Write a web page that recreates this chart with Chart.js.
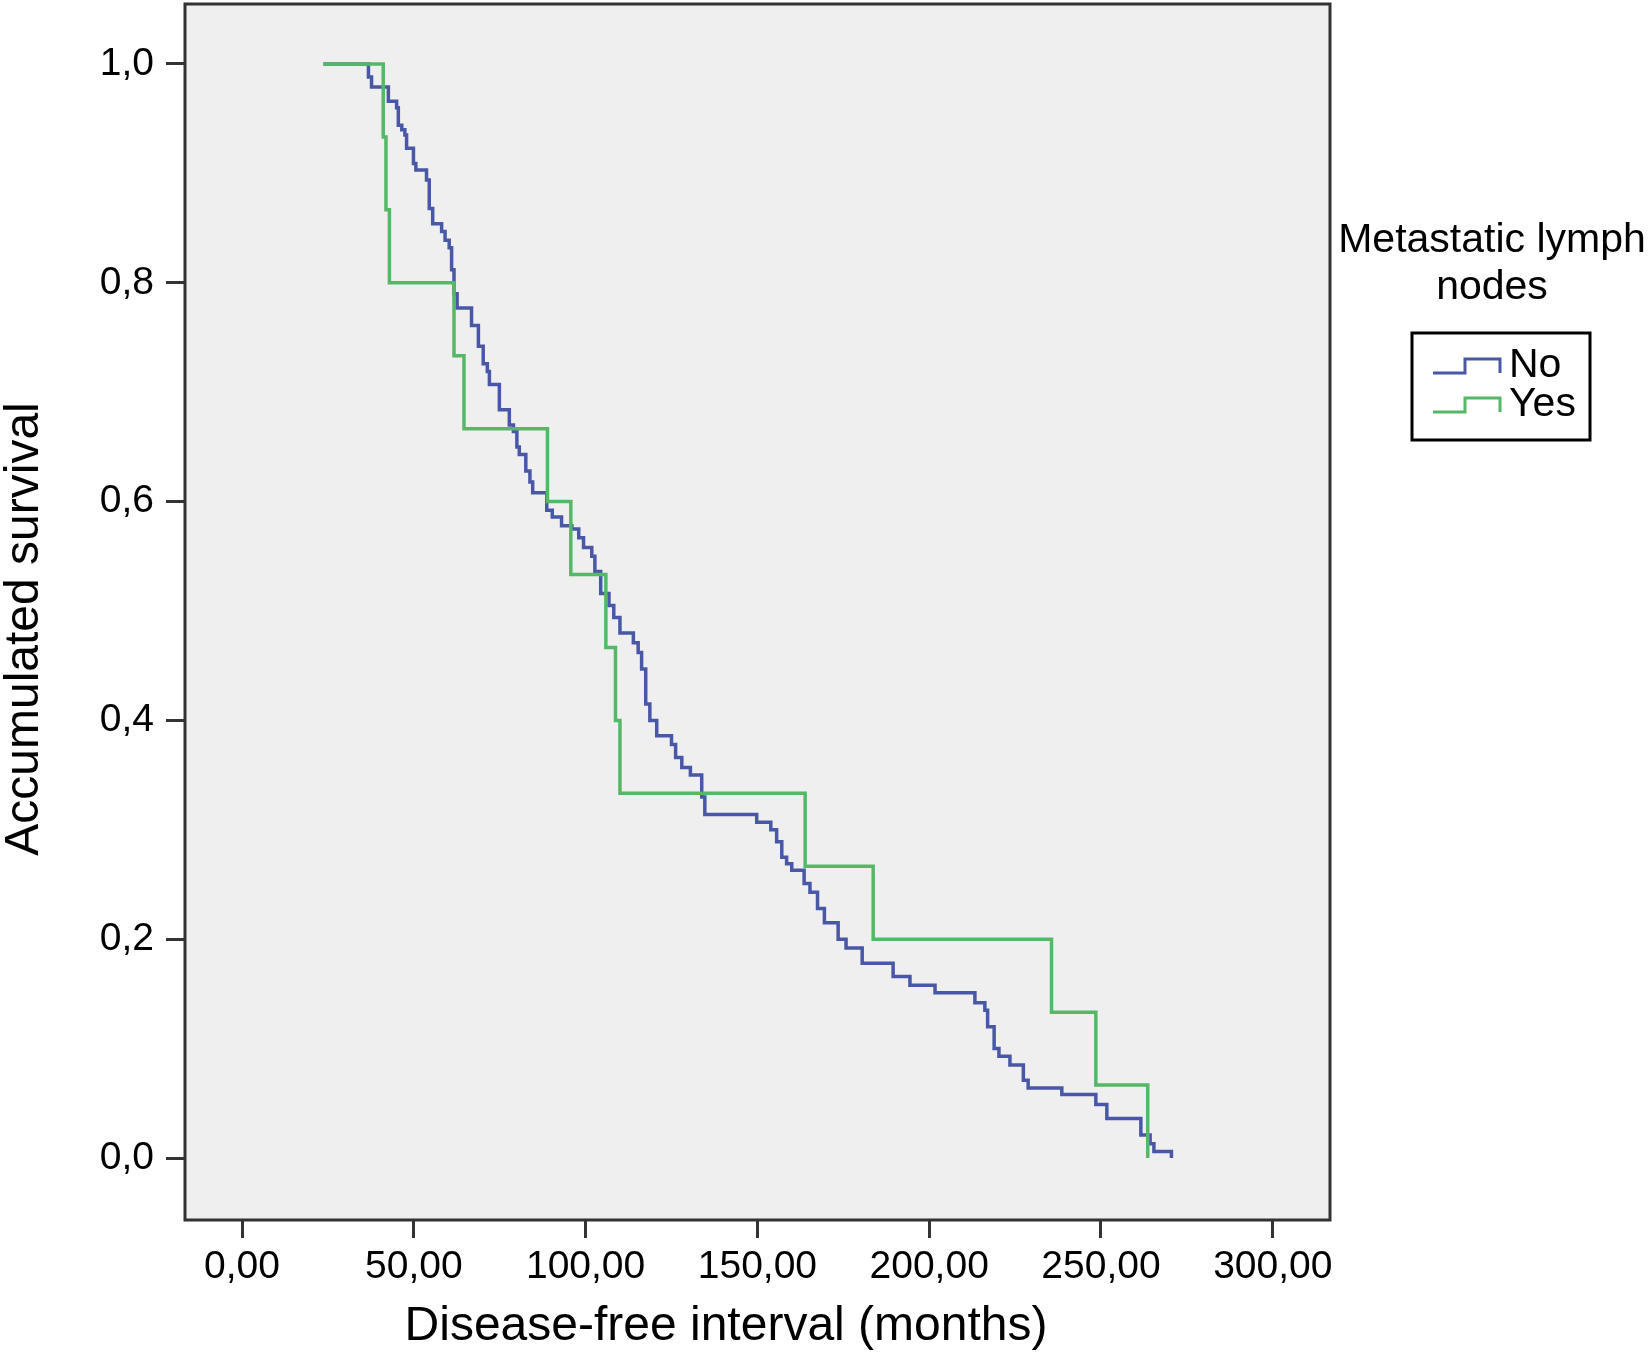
<!DOCTYPE html>
<html>
<head>
<meta charset="utf-8">
<script src="https://cdn.jsdelivr.net/npm/chart.js@4.4.0/dist/chart.umd.min.js"></script>
<style>
  html, body { margin: 0; padding: 0; background: #ffffff; }
  #wrap { width: 1649px; height: 1364px; }
</style>
</head>
<body>
<div id="wrap"><canvas id="kmChart" width="1649" height="1364"></canvas></div>
<script>
// Kaplan-Meier curves: time of each drop (months) and survival after it
const noTimes = [23.7, 36.8, 37.7, 42.6, 45.0, 45.5, 46.5, 47.4, 47.9, 49.9, 50.6, 53.7, 54.5, 55.5,
    58.1, 59.1, 60.3, 61.0, 61.7, 62.6, 66.8, 68.8, 70.2, 71.4, 72.0, 74.9, 77.8, 79.0, 80.0, 80.7,
    82.6, 83.8, 84.6, 88.7, 90.3, 93.0, 96.0, 98.0, 99.4, 101.8, 102.7, 104.4, 106.8, 108.2, 110.0,
    113.9, 115.3, 116.3, 117.5, 118.7, 120.7, 125.0, 126.2, 128.0, 130.5, 133.8, 134.7, 149.8, 153.9,
    155.6, 157.1, 158.5, 160.0, 163.6, 165.3, 167.5, 169.5, 173.5, 175.8, 180.5, 189.5, 194.4, 201.7,
    213.3, 216.2, 217.0, 218.9, 220.3, 223.5, 227.4, 228.8, 238.6, 248.5, 251.7, 261.6, 264.3, 265.4,
    270.5];
const noSurvival = [1.0, 0.988, 0.979, 0.966, 0.960, 0.944, 0.940, 0.935, 0.923, 0.909, 0.903, 0.894, 0.868, 0.854,
    0.847, 0.839, 0.832, 0.812, 0.790, 0.777, 0.761, 0.742, 0.726, 0.719, 0.707, 0.684, 0.670, 0.664, 0.650, 0.643,
    0.628, 0.618, 0.608, 0.592, 0.586, 0.578, 0.575, 0.567, 0.558, 0.550, 0.536, 0.516, 0.505, 0.494, 0.480,
    0.471, 0.462, 0.447, 0.415, 0.400, 0.386, 0.378, 0.366, 0.357, 0.350, 0.330, 0.314, 0.307, 0.300,
    0.289, 0.275, 0.269, 0.263, 0.251, 0.243, 0.228, 0.215, 0.200, 0.192, 0.178, 0.166, 0.158, 0.151,
    0.142, 0.135, 0.120, 0.100, 0.093, 0.085, 0.071, 0.064, 0.058, 0.049, 0.036, 0.021, 0.013, 0.006,
    0.0];

const yesTimes = [23.7, 41.1, 41.9, 42.9, 61.7, 64.6, 88.9, 95.7, 105.9, 108.7, 110.0, 163.9, 183.7, 235.6, 248.5, 263.6];
const yesSurvival = [1.0, 0.9333, 0.8667, 0.8, 0.7333, 0.6667, 0.6, 0.5333, 0.4667, 0.4, 0.3333, 0.2667, 0.2, 0.1333, 0.0667, 0.0];

const xTickValues = [0, 50, 100, 150, 200, 250, 300];
const yTickValues = [0, 0.2, 0.4, 0.6, 0.8, 1.0];

const groupLabels = ['No', 'Yes'];
const groupColors = ['#4858a6', '#55b866'];
const legendTitle = ['Metastatic lymph', 'nodes'];
const xTitle = 'Disease-free interval (months)';
const yTitle = 'Accumulated survival';

const FONT = '"Liberation Sans", Arial, Helvetica, sans-serif';
const frameColor = '#333333';

function toPoints(times, values) {
    return times.map((t, i) => ({x: t, y: values[i]}));
}

// background, frame, axis titles and legend
const decorations = {
    id: 'decorations',
    beforeDraw(chart) {
        const c = chart.ctx;
        const a = chart.chartArea;
        c.save();
        c.fillStyle = '#ffffff';
        c.fillRect(0, 0, chart.width, chart.height);
        c.fillStyle = '#f0efef';
        c.fillRect(a.left, a.top, a.right - a.left, a.bottom - a.top);
        c.restore();
    },
    afterDraw(chart) {
        const c = chart.ctx;
        const a = chart.chartArea;
        c.save();
        c.strokeStyle = frameColor;
        c.lineWidth = 3;
        c.strokeRect(a.left, a.top, a.right - a.left, a.bottom - a.top);

        c.fillStyle = '#000000';
        c.font = '48px ' + FONT;
        c.textAlign = 'center';
        c.textBaseline = 'middle';
        c.fillText(xTitle, 726, 1327);

        c.save();
        c.translate(25, 629);
        c.rotate(-Math.PI / 2);
        c.fillText(yTitle, 0, 0);
        c.restore();

        // legend
        c.font = '41px ' + FONT;
        c.fillText(legendTitle[0], 1492, 241);
        c.fillText(legendTitle[1], 1492, 288);

        c.strokeStyle = '#000000';
        c.lineWidth = 3;
        c.strokeRect(1412, 333, 178, 107);

        const rows = [366, 405];
        c.textAlign = 'left';
        groupLabels.forEach((label, i) => {
            const yc = rows[i];
            c.strokeStyle = groupColors[i];
            c.lineWidth = 3;
            c.beginPath();
            c.moveTo(1433, yc + 7);
            c.lineTo(1465, yc + 7);
            c.lineTo(1465, yc - 7);
            c.lineTo(1500, yc - 7);
            c.lineTo(1500, yc + 7);
            c.stroke();
            c.fillStyle = '#000000';
            c.fillText(label, 1509, yc);
        });
        c.restore();
    }
};

const ctx = document.getElementById('kmChart');

const chart = new Chart(ctx, {
    type: 'line',
    data: {
        datasets: [
            {
                label: groupLabels[0],
                data: toPoints(noTimes, noSurvival),
                borderColor: groupColors[0],
                borderWidth: 3.5,
                stepped: true,
                pointRadius: 0,
                fill: false,
                order: 2,
            },
            {
                label: groupLabels[1],
                data: toPoints(yesTimes, yesSurvival),
                borderColor: groupColors[1],
                borderWidth: 3.5,
                stepped: true,
                pointRadius: 0,
                fill: false,
                order: 1,
            },
        ],
    },
    options: {
        responsive: false,
        devicePixelRatio: 1,
        animation: false,
        layout: {padding: {left: 0, top: 4, right: 319, bottom: 0}},
        plugins: {
            legend: {display: false},
            tooltip: {enabled: false},
        },
        scales: {
            x: {
                type: 'linear',
                min: -16.59,
                max: 316.65,
                afterBuildTicks: (axis) => { axis.ticks = xTickValues.map(v => ({value: v})); },
                afterFit: (axis) => {
                    axis.height = 144;
                    axis.paddingLeft = 0;
                    axis.paddingRight = 0;
                },
                grid: {drawOnChartArea: false, drawTicks: true, tickLength: 18, tickColor: frameColor, tickWidth: 3},
                border: {display: false},
                ticks: {
                    color: '#000000',
                    font: {family: FONT, size: 39},
                    padding: 6,
                    maxRotation: 0,
                    callback: (v) => Number(v).toFixed(2).replace('.', ','),
                },
            },
            y: {
                type: 'linear',
                min: -0.05667,
                max: 1.05484,
                afterBuildTicks: (axis) => { axis.ticks = yTickValues.map(v => ({value: v})); },
                afterFit: (axis) => {
                    axis.width = 185;
                    axis.paddingTop = 0;
                    axis.paddingBottom = 0;
                },
                grid: {drawOnChartArea: false, drawTicks: true, tickLength: 19, tickColor: frameColor, tickWidth: 3},
                border: {display: false},
                ticks: {
                    color: '#000000',
                    font: {family: FONT, size: 39},
                    padding: 12,
                    callback: (v) => Number(v).toFixed(1).replace('.', ','),
                },
            },
        },
    },
    plugins: [decorations],
});
</script>
</body>
</html>
